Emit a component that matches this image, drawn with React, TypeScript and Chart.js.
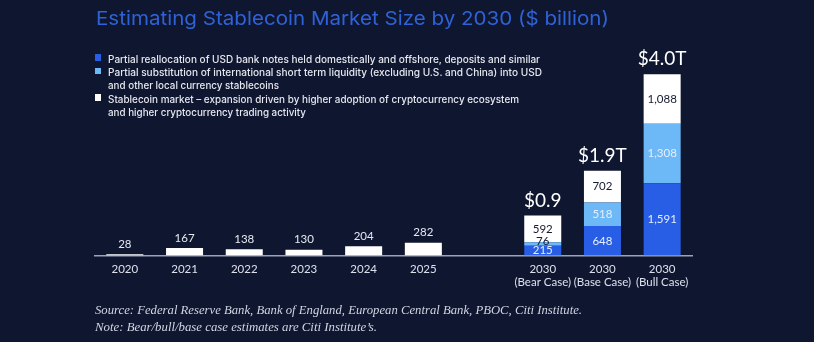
import React, { useEffect, useLayoutEffect, useRef } from "react";
import { Chart, registerables } from "chart.js";

Chart.register(...registerables);

// ---------- data ----------
const categories: (string | string[])[] = [
  "2020", "2021", "2022", "2023", "2024", "2025", "",
  ["2030", "(Bear Case)"], ["2030", "(Base Case)"], ["2030", "(Bull Case)"],
];
const reallocation = [null, null, null, null, null, null, null, 215, 648, 1591];
const substitution = [null, null, null, null, null, null, null, 76, 518, 1308];
const marketExpansion = [28, 167, 138, 130, 204, 282, null, 592, 702, 1088];
const totalLabels = [null, null, null, null, null, null, null, "$0.9", "$1.9T", "$4.0T"];

const seriesNames = [
  "Partial reallocation of USD bank notes held domestically and offshore, deposits and similar",
  "Partial substitution of international short term liquidity (excluding U.S. and China) into USD and other local currency stablecoins",
  "Stablecoin market – expansion driven by higher adoption of cryptocurrency ecosystem and higher cryptocurrency trading activity",
];

const TITLE = "Estimating Stablecoin Market Size by 2030 ($ billion)";
const SOURCE = "Source: Federal Reserve Bank, Bank of England, European Central Bank, PBOC, Citi Institute.";
const NOTE = "Note: Bear/bull/base case estimates are Citi Institute’s.";

// ---------- styles ----------
const BG = "#0f1630";
const DARK_BLUE = "#285de6";
const LIGHT_BLUE = "#6db8f7";
const WHITE = "#ffffff";
const NUM_FONT = "Lato, 'Liberation Sans', sans-serif";
const SANS = "Inter, 'Liberation Sans', sans-serif";

function FitText({ text, width, style }: { text: string; width: number; style: React.CSSProperties }) {
  const ref = useRef<HTMLSpanElement>(null);
  useLayoutEffect(() => {
    const el = ref.current;
    if (!el) return;
    el.style.transform = "none";
    const w = el.getBoundingClientRect().width;
    if (w > 0) el.style.transform = `scaleX(${width / w})`;
  });
  return (
    <span
      ref={ref}
      style={{ display: "inline-block", whiteSpace: "nowrap", transformOrigin: "0 50%", ...style }}
    >
      {text}
    </span>
  );
}

const valueLabelPlugin = {
  id: "valueLabels",
  afterDatasetsDraw(chart: any) {
    const ctx = chart.ctx;
    ctx.save();
    ctx.textAlign = "center";
    ctx.textBaseline = "middle";
    chart.data.datasets.forEach((ds: any, di: number) => {
      const meta = chart.getDatasetMeta(di);
      meta.data.forEach((bar: any, i: number) => {
        const v = ds.data[i];
        if (v == null) return;
        const txt = Number(v).toLocaleString("en-US");
        ctx.font = `11.5px ${NUM_FONT}`;
        const historical = reallocation[i] == null;
        if (historical) {
          ctx.fillStyle = "#e6e9f1";
          ctx.fillText(txt, bar.x, bar.y - 10);
          return;
        }
        const h = Math.abs(bar.base - bar.y);
        if (h < 6) {
          // thin segment: label sits just above it, dark for contrast
          ctx.fillStyle = "#141a30";
          ctx.fillText(txt, bar.x, bar.y - 1.5);
          return;
        }
        ctx.fillStyle = di === 2 ? "#141a30" : "#e4eeff";
        ctx.fillText(txt, bar.x, (bar.y + bar.base) / 2);
      });
    });
    const topMeta = chart.getDatasetMeta(2);
    ctx.font = `19px ${NUM_FONT}`;
    ctx.fillStyle = "#ffffff";
    totalLabels.forEach((t, i) => {
      if (!t) return;
      const bar = topMeta.data[i];
      ctx.fillText(t, bar.x, bar.y - 15);
    });
    ctx.restore();
  },
};

export default function App() {
  const canvasRef = useRef<HTMLCanvasElement>(null);

  useEffect(() => {
    if (!canvasRef.current) return;
    const common = { stack: "s", barPercentage: 0.62, categoryPercentage: 1, borderWidth: 0 };
    const chart = new Chart(canvasRef.current, {
      type: "bar",
      data: {
        labels: categories as any,
        datasets: [
          { label: seriesNames[0], data: reallocation as any, backgroundColor: DARK_BLUE, ...common },
          { label: seriesNames[1], data: substitution as any, backgroundColor: LIGHT_BLUE, ...common },
          { label: seriesNames[2], data: marketExpansion as any, backgroundColor: WHITE, ...common },
        ],
      },
      options: {
        animation: false,
        responsive: true,
        maintainAspectRatio: false,
        layout: { padding: { left: 95, right: 122, top: 51, bottom: 46 } },
        plugins: { legend: { display: false }, tooltip: { enabled: false }, title: { display: false } },
        scales: {
          x: {
            stacked: true,
            grid: { display: false, drawTicks: false },
            border: { display: true, color: "#9ca3b8", width: 1.5 },
            ticks: {
              color: "#dde1ec",
              font: { family: NUM_FONT, size: 11.5, lineHeight: 1.15 },
              padding: 7,
              maxRotation: 0,
              autoSkip: false,
            },
          },
          y: { stacked: true, display: false, min: 0, max: 4500 },
        },
      },
      plugins: [valueLabelPlugin],
    });
    return () => chart.destroy();
  }, []);

  const legendFont: React.CSSProperties = {
    fontFamily: SANS,
    fontSize: 10,
    fontWeight: 500,
    color: "#e6e8ef",
    lineHeight: "13.4px",
  };
  const legendRows: { text: string; width: number; color?: string }[] = [
    { text: "Partial reallocation of USD bank notes held domestically and offshore, deposits and similar", width: 432, color: DARK_BLUE },
    { text: "Partial substitution of international short term liquidity (excluding U.S. and China) into USD", width: 434, color: LIGHT_BLUE },
    { text: "and other local currency stablecoins", width: 171 },
    { text: "Stablecoin market – expansion driven by higher adoption of cryptocurrency ecosystem", width: 411, color: WHITE },
    { text: "and higher cryptocurrency trading activity", width: 198 },
  ];

  return (
    <div style={{ position: "fixed", left: 0, top: 0, width: 814, height: 342, background: BG, overflow: "hidden" }}>
      <div style={{ position: "absolute", left: 0, top: 0, width: 814, height: 342 }}>
        <canvas ref={canvasRef} />
      </div>
      <div style={{ position: "absolute", left: 95.5, top: 9.3, lineHeight: "19px" }}>
        <FitText
          text={TITLE}
          width={513}
          style={{ fontFamily: SANS, fontWeight: 400, fontSize: 19, lineHeight: "19px", color: "#2f62d6" }}
        />
      </div>
      {legendRows.map((r, k) => (
        <div key={k} style={{ position: "absolute", left: 94.5, top: 50.6 + k * 13.4, height: 13.4, width: 500 }}>
          {r.color && (
            <span
              style={{ position: "absolute", left: 0, top: 3.7, width: 6.7, height: 6.7, background: r.color }}
            />
          )}
          <div style={{ position: "absolute", left: 13.8, top: 0, lineHeight: "13.4px" }}>
            <FitText text={r.text} width={r.width} style={legendFont} />
          </div>
        </div>
      ))}
      {[SOURCE, NOTE].map((t, k) => (
        <div key={k} style={{ position: "absolute", left: 95, top: 299.6 + k * 17.4, lineHeight: "18px" }}>
          <FitText
            text={t}
            width={k === 0 ? 487 : 282}
            style={{
              fontFamily: "'Liberation Serif', 'DejaVu Serif', serif",
              fontStyle: "italic",
              fontSize: 12,
              lineHeight: "18px",
              color: "#d2d6e2",
            }}
          />
        </div>
      ))}
    </div>
  );
}
